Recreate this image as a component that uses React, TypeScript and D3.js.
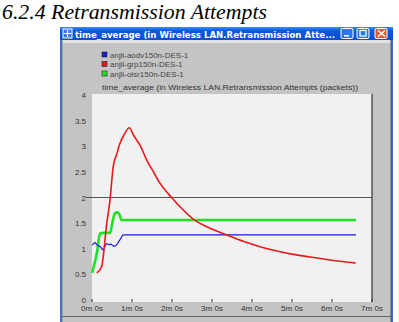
import React, { useEffect, useRef } from 'react';
import * as d3 from 'd3';

// series names (legend)
const seriesNames = ['anjli-aodv150n-DES-1', 'anjli-grp150n-DES-1', 'anjli-olsr150n-DES-1'];
const seriesColors = ['#1a1ad8', '#e81818', '#22e022'];

// time in minutes, values in packets
const aodvTime = [0, 0.04, 0.07, 0.12, 0.16, 0.22, 0.27, 0.32, 0.37, 0.42, 0.47, 0.52, 0.56, 0.62, 0.66, 0.72, 0.78, 6.6];
const aodvValue = [1.07, 1.1, 1.12, 1.08, 1.06, 1.03, 0.98, 1.04, 1.1, 1.08, 1.09, 1.06, 1.05, 1.08, 1.13, 1.2, 1.27, 1.27];

const grpTime = [0.12, 0.24, 0.37, 0.45, 0.53, 0.62, 0.7, 0.8, 0.93, 1.05, 1.2, 1.37, 1.55, 1.7, 1.99, 2.25, 2.53, 2.9, 3.37, 3.8, 4.2, 4.6, 5.03, 5.45, 5.87, 6.25, 6.59];
const grpValue = [0.53, 0.65, 1.5, 1.95, 2.6, 2.85, 3.06, 3.22, 3.36, 3.2, 3.02, 2.73, 2.48, 2.28, 2.0, 1.78, 1.58, 1.42, 1.27, 1.14, 1.04, 0.96, 0.89, 0.84, 0.79, 0.75, 0.72];

const olsrTime = [0, 0.06, 0.12, 0.2, 0.3, 0.45, 0.52, 0.57, 0.63, 0.68, 0.74, 6.6];
const olsrValue = [0.53, 0.7, 0.91, 1.3, 1.31, 1.31, 1.55, 1.69, 1.71, 1.68, 1.56, 1.56];

const yTicks = [0, 0.5, 1, 1.5, 2, 2.5, 3, 3.5, 4];
const yTickLabels = ['0', '0.5', '1', '1.5', '2', '2.5', '3', '3.5', '4'];
const xTicks = [0, 1, 2, 3, 4, 5, 6, 7];
const xTickLabels = ['0m 0s', '1m 0s', '2m 0s', '3m 0s', '4m 0s', '5m 0s', '6m 0s', '7m 0s'];

export default function App() {
  const ref = useRef<SVGSVGElement>(null);

  useEffect(() => {
    const svg = d3.select(ref.current);
    svg.selectAll('*').remove();

    // page heading
    svg.append('text')
      .attr('x', 2).attr('y', 19)
      .attr('textLength', 265).attr('lengthAdjust', 'spacingAndGlyphs')
      .style('font-family', '"Liberation Serif", serif')
      .style('font-style', 'italic')
      .style('font-size', '21px')
      .attr('fill', '#000')
      .text('6.2.4 Retransmission Attempts');

    // window frame
    svg.append('rect').attr('x', 60).attr('y', 27).attr('width', 333).attr('height', 300).attr('fill', '#3a6fd8');
    svg.append('rect').attr('x', 62).attr('y', 40).attr('width', 329).attr('height', 290).attr('fill', '#c4c4c4');
    svg.append('rect').attr('x', 62).attr('y', 40).attr('width', 329).attr('height', 3).attr('fill', '#e2e2e2');
    svg.append('line').attr('x1', 391).attr('x2', 391).attr('y1', 40).attr('y2', 322).attr('stroke', '#555').attr('stroke-width', 1);
    svg.append('line').attr('x1', 62).attr('x2', 62).attr('y1', 40).attr('y2', 322).attr('stroke', '#777').attr('stroke-width', 1);
    svg.append('line').attr('x1', 62).attr('x2', 391).attr('y1', 316.5).attr('y2', 316.5).attr('stroke', '#666').attr('stroke-width', 1);

    // title bar
    const grad = svg.append('defs').append('linearGradient').attr('id', 'tb').attr('x1', 0).attr('x2', 0).attr('y1', 0).attr('y2', 1);
    grad.append('stop').attr('offset', '0%').attr('stop-color', '#3d8cf5');
    grad.append('stop').attr('offset', '30%').attr('stop-color', '#0858e0');
    grad.append('stop').attr('offset', '100%').attr('stop-color', '#0a4fcf');
    svg.append('rect').attr('x', 60).attr('y', 27).attr('width', 333).attr('height', 13).attr('fill', 'url(#tb)');
    svg.append('rect').attr('x', 63).attr('y', 29).attr('width', 9).attr('height', 9).attr('fill', '#3a7ae0').attr('stroke', '#fff').attr('stroke-width', 1);
    svg.append('path').attr('d', 'M64,33.5H71M67.5,30V37').attr('stroke', '#fff').attr('stroke-width', 1.2);
    svg.append('text')
      .attr('x', 75).attr('y', 37.5)
      .attr('textLength', 260).attr('lengthAdjust', 'spacingAndGlyphs')
      .style('font-family', '"DejaVu Sans", sans-serif')
      .style('font-weight', 'bold')
      .style('font-size', '9px')
      .attr('fill', '#fff')
      .text('time_average (in Wireless LAN.Retransmission Atte...');
    const btns = [341, 357, 375];
    btns.forEach((bx, i) => {
      svg.append('rect').attr('x', bx).attr('y', 28.5).attr('width', 12).attr('height', 10).attr('rx', 1.5)
        .attr('fill', i === 2 ? '#e05a2a' : '#2e74ea').attr('stroke', '#fff').attr('stroke-width', 1);
    });
    svg.append('rect').attr('x', 344).attr('y', 35).attr('width', 5).attr('height', 1.5).attr('fill', '#fff');
    svg.append('rect').attr('x', 360).attr('y', 30.5).attr('width', 6).attr('height', 5.5).attr('fill', 'none').attr('stroke', '#fff').attr('stroke-width', 1.2);
    svg.append('path').attr('d', 'M378,30.5L385,36.5M385,30.5L378,36.5').attr('stroke', '#fff').attr('stroke-width', 1.6);

    // legend
    seriesNames.forEach((name, i) => {
      const ly = 52 + i * 9.5;
      svg.append('rect').attr('x', 102).attr('y', ly).attr('width', 5).attr('height', 5)
        .attr('fill', seriesColors[i]).attr('stroke', '#222').attr('stroke-width', 0.6);
      svg.append('text').attr('x', 110).attr('y', ly + 5.5)
        .style('font-family', '"Liberation Sans", sans-serif').style('font-size', '8px')
        .attr('fill', '#444').text(name);
    });

    // plot scales
    const x = d3.scaleLinear().domain([0, 7]).range([92, 372]);
    const y = d3.scaleLinear().domain([0, 4]).range([300, 95]);

    svg.append('rect').attr('x', 92).attr('y', 94).attr('width', 280).attr('height', 208).attr('fill', '#f1f1f1');
    svg.append('line').attr('x1', 372).attr('x2', 372).attr('y1', 94).attr('y2', 302).attr('stroke', '#111').attr('stroke-width', 1);

    svg.append('text')
      .attr('x', 102).attr('y', 90)
      .attr('textLength', 256).attr('lengthAdjust', 'spacingAndGlyphs')
      .style('font-family', '"Liberation Sans", sans-serif').style('font-size', '8px')
      .attr('fill', '#333')
      .text('time_average (in Wireless LAN.Retransmission Attempts (packets))');

    // y axis labels
    yTicks.forEach((t, i) => {
      svg.append('text').attr('x', 86).attr('y', y(t) + 3)
        .attr('text-anchor', 'end')
        .style('font-family', '"Liberation Sans", sans-serif').style('font-size', '8px')
        .attr('fill', '#333').text(yTickLabels[i]);
    });
    // reference line at 2
    svg.append('line').attr('x1', 86).attr('x2', 372).attr('y1', y(2)).attr('y2', y(2))
      .attr('stroke', '#555').attr('stroke-width', 1);

    // x axis ticks and labels
    xTicks.forEach((t, i) => {
      svg.append('line').attr('x1', x(t)).attr('x2', x(t)).attr('y1', 299).attr('y2', 302)
        .attr('stroke', '#333').attr('stroke-width', 1);
      svg.append('text').attr('x', x(t)).attr('y', 311)
        .attr('text-anchor', 'middle')
        .style('font-family', '"Liberation Sans", sans-serif').style('font-size', '8px')
        .attr('fill', '#333').text(xTickLabels[i]);
    });

    const line = d3.line<[number, number]>().x(d => x(d[0])).y(d => y(d[1])).curve(d3.curveMonotoneX);
    const series: [number[], number[], number][] = [
      [olsrTime, olsrValue, 2.6],
      [aodvTime, aodvValue, 1.2],
      [grpTime, grpValue, 1.6],
    ];
    const colorIdx = [2, 0, 1];
    series.forEach(([ts, vs, w], i) => {
      svg.append('path')
        .datum(ts.map((t, j) => [t, vs[j]] as [number, number]))
        .attr('d', line)
        .attr('fill', 'none')
        .attr('stroke', seriesColors[colorIdx[i]])
        .attr('stroke-width', w)
        .attr('stroke-linejoin', 'round');
    });
  }, []);

  return (
    <svg ref={ref} width={399} height={322}
      style={{ position: 'absolute', left: 0, top: 0, display: 'block', background: '#fff' }} />
  );
}
